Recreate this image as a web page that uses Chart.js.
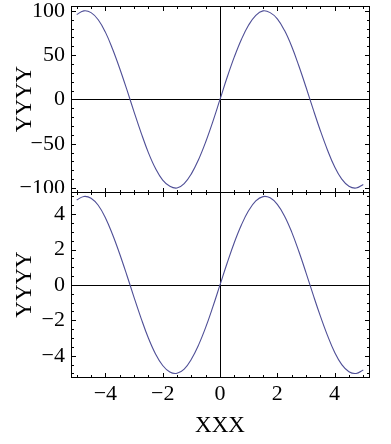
<!DOCTYPE html>
<html><head><meta charset="utf-8">
<script src="https://cdn.jsdelivr.net/npm/chart.js@4/dist/chart.umd.min.js"></script>
<style>
html,body{margin:0;padding:0;background:#fff;width:391px;height:444px;overflow:hidden;}
canvas{position:absolute;left:0;}
#c1{top:0;} #c2{top:192px;}
</style></head><body>
<canvas id="c1" width="391" height="193"></canvas>
<canvas id="c2" width="391" height="252"></canvas>
<script>
// ---- data ----
const xValues = [-5, -4.75, -4.5, -4.25, -4, -3.75, -3.5, -3.25, -3, -2.75, -2.5, -2.25, -2, -1.75, -1.5, -1.25, -1, -0.75, -0.5, -0.25, 0,
                 0.25, 0.5, 0.75, 1, 1.25, 1.5, 1.75, 2, 2.25, 2.5, 2.75, 3, 3.25, 3.5, 3.75, 4, 4.25, 4.5, 4.75, 5];
const topValues = [96, 100, 98, 90, 76, 57, 35, 11, -14, -38, -60, -78, -91, -98, -100, -95, -84, -68, -48, -25, 0,
                   25, 48, 68, 84, 95, 100, 98, 91, 78, 60, 38, 14, -11, -35, -57, -76, -90, -98, -100, -96];
const bottomValues = [4.8, 5.0, 4.9, 4.5, 3.8, 2.85, 1.75, 0.55, -0.7, -1.9, -3.0, -3.9, -4.55, -4.92, -4.99, -4.75, -4.2, -3.4, -2.4, -1.24, 0,
                      1.24, 2.4, 3.4, 4.2, 4.75, 4.99, 4.92, 4.55, 3.9, 3.0, 1.9, 0.7, -0.55, -1.75, -2.85, -3.8, -4.5, -4.9, -5.0, -4.8];
const topTicks = [-100, -50, 0, 50, 100];
const bottomTicks = [-4, -2, 0, 2, 4];
const xTicks = [-4, -2, 0, 2, 4];
const xTitle = 'XXX';
const yTitle = 'YYYY';

const FAMILY = '"Liberation Serif", "DejaVu Serif", serif';
const LINE = 'rgb(78,78,150)';
const minus = v => String(v).replace('-', '\u2212');

function ticksFor(arr) { return s => { s.ticks = arr.map(v => ({ value: v })); }; }

const framePlugin = {
  id: 'frame',
  beforeDatasetsDraw(chart) {
    const ctx = chart.ctx, a = chart.chartArea, xs = chart.scales.x, ys = chart.scales.y;
    const L = Math.round(a.left), R = Math.round(a.right), T = Math.round(a.top), B = Math.round(a.bottom);
    ctx.save(); ctx.fillStyle = '#000';
    const y0 = Math.round(ys.getPixelForValue(0));
    const x0 = Math.round(xs.getPixelForValue(0));
    ctx.fillRect(L, y0, R - L, 1);
    ctx.fillRect(x0, T, 1, B - T);
    ctx.restore();
  },
  afterDatasetsDraw(chart, args, o) {
    const ctx = chart.ctx, a = chart.chartArea, xs = chart.scales.x, ys = chart.scales.y;
    const L = Math.round(a.left), R = Math.round(a.right), T = Math.round(a.top), B = Math.round(a.bottom);
    ctx.save(); ctx.fillStyle = '#000';
    ctx.fillRect(L, T, R - L + 1, 1);
    ctx.fillRect(L, B, R - L + 1, 1);
    ctx.fillRect(L, T, 1, B - T + 1);
    ctx.fillRect(R, T, 1, B - T + 1);
    const isMajor = (v, step) => Math.abs(v / step - Math.round(v / step)) < 1e-6;
    for (let v = Math.ceil(xs.min / 0.5) * 0.5; v <= xs.max + 1e-9; v += 0.5) {
      const len = isMajor(v, 2) ? 5 : 3;
      const px = Math.round(xs.getPixelForValue(v));
      ctx.fillRect(px, T, 1, len);
      ctx.fillRect(px, B - len + 1, 1, len);
    }
    for (let v = Math.ceil(ys.min / o.yMinor) * o.yMinor; v <= ys.max + 1e-9; v += o.yMinor) {
      const len = isMajor(v, o.yMajor) ? 5 : 3;
      const py = Math.round(ys.getPixelForValue(v));
      ctx.fillRect(L, py, len, 1);
      ctx.fillRect(R - len + 1, py, len, 1);
    }
    ctx.restore();
  }
};

function yScale(min, max, tickArr) {
  return {
    type: 'linear', min, max,
    afterBuildTicks: ticksFor(tickArr),
    afterFit: s => { s.width = 71; s.paddingTop = 0; s.paddingBottom = 0; },
    grid: { display: false, drawTicks: false },
    border: { display: false },
    ticks: { autoSkip: false, color: '#000', padding: 6, font: { family: FAMILY, size: 22 }, callback: v => minus(v) },
    title: { display: true, text: yTitle, color: '#000', font: { family: FAMILY, size: 23 }, padding: { top: 11, bottom: 0 } }
  };
}

function makeChart(id, values, yCfg, xCfg, padding, tickOpts) {
  return new Chart(document.getElementById(id), {
    type: 'line',
    data: { datasets: [{ data: xValues.map((x, i) => ({ x, y: values[i] })), borderColor: LINE, borderWidth: 1.1, pointRadius: 0, tension: 0.4, fill: false }] },
    options: {
      responsive: false, animation: false, devicePixelRatio: 1,
      layout: { padding },
      plugins: { legend: { display: false }, tooltip: { enabled: false }, frame: tickOpts },
      scales: { x: xCfg, y: yCfg }
    },
    plugins: [framePlugin]
  });
}

makeChart('c1', topValues, yScale(-104.5, 105.5, topTicks),
  { type: 'linear', min: -5.2, max: 5.2, display: false },
  { left: 0, right: 22, top: 6, bottom: 1 }, { yMinor: 10, yMajor: 50 });

makeChart('c2', bottomValues, yScale(-5.2, 5.25, bottomTicks),
  { type: 'linear', min: -5.2, max: 5.2,
    afterBuildTicks: ticksFor(xTicks),
    afterFit: s => { s.height = 67; s.paddingLeft = 0; s.paddingRight = 0; },
    grid: { display: false, drawTicks: false },
    border: { display: false },
    ticks: { autoSkip: false, maxRotation: 0, color: '#000', padding: 4, font: { family: FAMILY, size: 22 }, callback: v => minus(v) },
    title: { display: true, text: xTitle, color: '#000', font: { family: FAMILY, size: 23 }, padding: { top: 0, bottom: 4 } } },
  { left: 0, right: 22, top: 0, bottom: 0 }, { yMinor: 0.5, yMajor: 2 });
</script>
</body></html>
